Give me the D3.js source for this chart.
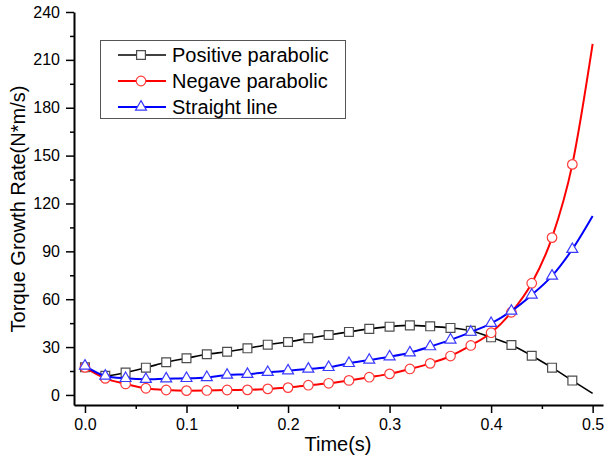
<!DOCTYPE html>
<html>
<head>
<meta charset="utf-8">
<script src="https://cdn.jsdelivr.net/npm/d3@7"></script>
<style>
    body { margin: 0; background: #fff; }
    svg { display: block; font-family: "Liberation Sans", Arial, sans-serif; }
</style>
</head>
<body>
<svg id="drawing_region"></svg>
<script>
// time points (s); markers are drawn up to 0.48, the lines run on to 0.5
const times = [0, 0.02, 0.04, 0.06, 0.08, 0.10, 0.12, 0.14, 0.16, 0.18, 0.20, 0.22, 0.24,
               0.26, 0.28, 0.30, 0.32, 0.34, 0.36, 0.38, 0.40, 0.42, 0.44, 0.46, 0.48, 0.50];

const positive = [17.3, 12.0, 14.0, 17.1, 20.5, 23.0, 25.5, 27.1, 29.2, 31.5, 33.2, 35.5, 37.6,
                  39.5, 41.4, 42.8, 43.6, 43.0, 42.0, 40.2, 36.1, 31.3, 24.6, 17.1, 9.0, 1.0];
const negative = [17.3, 10.4, 6.9, 4.2, 3.1, 2.7, 2.8, 3.1, 3.2, 3.8, 4.6, 6.1, 7.3,
                  9.1, 11.1, 13.2, 16.3, 19.8, 24.4, 31.0, 39.0, 51.8, 70.0, 98.6, 144.5, 220.0];
const straight = [18.2, 11.9, 10.4, 9.8, 10.2, 10.4, 11.0, 12.5, 13.0, 14.2, 15.2, 16.3, 17.3,
                  19.8, 21.9, 24.0, 26.5, 30.3, 34.5, 39.4, 44.9, 52.6, 62.7, 74.6, 91.3, 112.2];

const seriesNames = ["Positive parabolic", "Negave parabolic", "Straight line"];

const xTicks = [0, 0.1, 0.2, 0.3, 0.4, 0.5];
const xMinor = [0.05, 0.15, 0.25, 0.35, 0.45];
const yTicks = [0, 30, 60, 90, 120, 150, 180, 210, 240];
const yMinor = [15, 45, 75, 105, 135, 165, 195, 225];

const styles = [
    {line: "#000000", stroke: "#4d4d4d", width: 1.6, symbol: d3.symbolSquare, size: 78},
    {line: "#ff0000", stroke: "#ff3b3b", width: 2, symbol: d3.symbolCircle, size: 72},
    {line: "#0000ff", stroke: "#3a3aff", width: 2, symbol: d3.symbolTriangle, size: 52}
];

const width = 606, height = 457;

const svg = d3.select("#drawing_region")
    .attr("width", width)
    .attr("height", height);

const xscale = d3.scaleLinear().domain([-0.0108, 0.5102]).range([74, 603]);
const yscale = d3.scaleLinear().domain([-6.3, 240]).range([405, 12]);

// minor ticks first, then the main axes on top
svg.append("g")
    .attr("transform", "translate(0,405)")
    .call(d3.axisBottom(xscale).tickValues(xMinor).tickSize(4).tickSizeOuter(0).tickFormat(""))
    .call(g => g.select(".domain").remove())
    .call(g => g.selectAll("line").attr("stroke-width", 1.5));

svg.append("g")
    .attr("transform", "translate(74,0)")
    .call(d3.axisLeft(yscale).tickValues(yMinor).tickSize(4).tickSizeOuter(0).tickFormat(""))
    .call(g => g.select(".domain").remove())
    .call(g => g.selectAll("line").attr("stroke-width", 1.5));

const xaxis = svg.append("g")
    .attr("transform", "translate(0,405)")
    .call(d3.axisBottom(xscale).tickValues(xTicks).tickSize(8).tickSizeOuter(0).tickPadding(6)
        .tickFormat(d3.format(".1f")));

const yaxis = svg.append("g")
    .attr("transform", "translate(74,0)")
    .call(d3.axisLeft(yscale).tickValues(yTicks).tickSize(8).tickSizeOuter(0).tickPadding(6));

[xaxis, yaxis].forEach(g => {
    g.select(".domain").attr("stroke-width", 2);
    g.selectAll("line").attr("stroke-width", 1.5);
    g.selectAll("text")
        .attr("font-size", 16)
        .attr("font-family", "Liberation Sans, Arial, sans-serif")
        .attr("fill", "#000");
});

// axis titles
svg.append("text")
    .attr("x", 338)
    .attr("y", 451)
    .attr("text-anchor", "middle")
    .attr("font-size", 20)
    .text("Time(s)");

svg.append("text")
    .attr("transform", "translate(25,209) rotate(-90)")
    .attr("text-anchor", "middle")
    .attr("font-size", 20)
    .text("Torque Growth Rate(N*m/s)");

// series
const allSeries = [positive, negative, straight];

const line = d3.line()
    .x(d => xscale(d.t))
    .y(d => yscale(d.v))
    .curve(d3.curveMonotoneX);

allSeries.forEach((values, i) => {
    const st = styles[i];
    const pts = times.map((t, k) => ({t: t, v: values[k]}));

    svg.append("path")
        .datum(pts)
        .attr("fill", "none")
        .attr("stroke", st.line)
        .attr("stroke-width", st.width)
        .attr("d", line);

    svg.append("g")
        .selectAll("path")
        .data(pts.filter(d => d.t < 0.49))
        .enter()
        .append("path")
        .attr("transform", d => `translate(${xscale(d.t)},${yscale(d.v)})`)
        .attr("d", d3.symbol().type(st.symbol).size(st.size))
        .attr("fill", "#fff")
        .attr("stroke", st.stroke)
        .attr("stroke-width", 1.2);
});

// legend
const legend = svg.append("g");

legend.append("rect")
    .attr("x", 100.5)
    .attr("y", 40.5)
    .attr("width", 245)
    .attr("height", 78)
    .attr("fill", "#fff")
    .attr("stroke", "#555")
    .attr("stroke-width", 1);

seriesNames.forEach((name, i) => {
    const st = styles[i];
    const cy = 55 + i * 26;

    legend.append("line")
        .attr("x1", 118).attr("x2", 166)
        .attr("y1", cy).attr("y2", cy)
        .attr("stroke", st.line)
        .attr("stroke-width", st.width);

    legend.append("path")
        .attr("transform", `translate(141,${cy})`)
        .attr("d", d3.symbol().type(st.symbol).size(st.size))
        .attr("fill", "#fff")
        .attr("stroke", st.stroke)
        .attr("stroke-width", 1.2);

    legend.append("text")
        .attr("x", 172)
        .attr("y", cy + 7)
        .attr("font-size", 20)
        .text(name);
});
</script>
</body>
</html>
